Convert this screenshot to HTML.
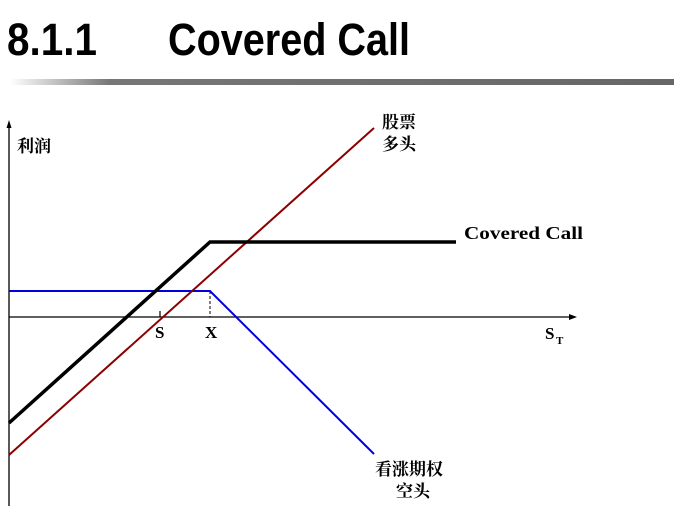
<!DOCTYPE html>
<html><head><meta charset="utf-8"><style>
html,body{margin:0;padding:0;background:#fff;width:694px;height:511px;overflow:hidden}
</style></head><body>
<svg width="694" height="511" viewBox="0 0 694 511" xmlns="http://www.w3.org/2000/svg">
<defs><linearGradient id="g" x1="0" x2="1"><stop offset="0" stop-color="#fff"/><stop offset="0.15" stop-color="#777"/><stop offset="1" stop-color="#666"/></linearGradient></defs>
<text x="7" y="55" font-family="Liberation Sans, sans-serif" font-weight="bold" font-size="45" fill="#000" textLength="90" lengthAdjust="spacingAndGlyphs">8.1.1</text>
<text x="168" y="55" font-family="Liberation Sans, sans-serif" font-weight="bold" font-size="45" fill="#000" textLength="242" lengthAdjust="spacingAndGlyphs">Covered Call</text>
<rect x="10" y="79" width="664" height="6" fill="url(#g)"/>
<line x1="9" y1="125" x2="9" y2="506" stroke="#000" stroke-width="1.3"/>
<polygon points="9,120 6.5,128 11.5,128" fill="#000"/>
<line x1="9" y1="317" x2="570" y2="317" stroke="#000" stroke-width="1.3"/>
<polygon points="577,317 569,314 569,320" fill="#000"/>
<line x1="160" y1="311" x2="160" y2="317" stroke="#000" stroke-width="1.2"/>
<line x1="210" y1="291" x2="210" y2="317" stroke="#000" stroke-width="1" stroke-dasharray="3,2"/>
<polyline points="9,291 210,291 374,454" fill="none" stroke="#0000dd" stroke-width="2"/>
<line x1="9" y1="455" x2="374" y2="128" stroke="#8b0000" stroke-width="2"/>
<polyline points="9,423 210,242 456,242" fill="none" stroke="#000" stroke-width="3.5"/>
<g font-family="Liberation Serif, serif" font-weight="bold" fill="#000">
<text x="155" y="338" font-size="17">S</text>
<text x="205" y="338" font-size="17">X</text>
<text x="545" y="339" font-size="17">S</text><text x="556" y="344" font-size="11">T</text>
<text x="464" y="239" font-size="18" textLength="119" lengthAdjust="spacingAndGlyphs">Covered Call</text>
</g>
<g font-family="'Noto Serif CJK SC', serif" font-weight="bold" font-size="17" fill="#000">
<text x="17" y="152">利润</text>
<text x="382" y="128">股票</text>
<text x="382" y="150">多头</text>
<text x="375" y="475">看涨期权</text>
<text x="396" y="497">空头</text>
</g>
</svg>
</body></html>
